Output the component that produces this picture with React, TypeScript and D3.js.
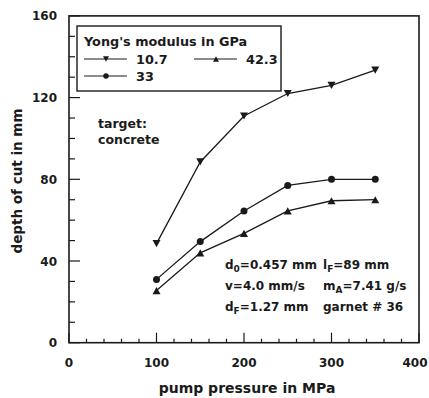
import React from "react";
import * as d3 from "d3";

const pressure = [100, 150, 200, 250, 300, 350];
const depth107 = [48.5, 88.5, 111, 122, 126, 133.5];
const depth33 = [31, 49.5, 64.5, 77, 80, 80];
const depth423 = [25.5, 44, 53.5, 64.5, 69.5, 70];
const xTicks = [0, 100, 200, 300, 400];
const yTicks = [0, 40, 80, 120, 160];
const legendTitle = "Yong's modulus in GPa";
const seriesNames = ["10.7", "33", "42.3"];

const W = 429, H = 398;
const FONT = "'DejaVu Sans', Verdana, sans-serif";
const INK = "#1a1a1a";

function Marker({ kind, cx, cy, s }: { kind: string; cx: number; cy: number; s: number }) {
  if (kind === "circle") return <circle cx={cx} cy={cy} r={s * 0.5} fill={INK} />;
  const h = s * 0.9;
  if (kind === "down")
    return <path d={`M${cx - s / 2},${cy - h / 2}L${cx + s / 2},${cy - h / 2}L${cx},${cy + h / 2}Z`} fill={INK} />;
  return <path d={`M${cx - s / 2},${cy + h / 2}L${cx + s / 2},${cy + h / 2}L${cx},${cy - h / 2}Z`} fill={INK} />;
}

export default function App() {
  const x = d3.scaleLinear().domain([0, 400]).range([69, 419]);
  const y = d3.scaleLinear().domain([0, 160]).range([342.7, 15.9]);
  const series = [
    { name: seriesNames[0], values: depth107, kind: "down" },
    { name: seriesNames[1], values: depth33, kind: "circle" },
    { name: seriesNames[2], values: depth423, kind: "up" },
  ];
  const line = d3.line<number>().x((_, i) => x(pressure[i])).y((v) => y(v));
  const yMinor = d3.range(0, 161, 10);
  const xMinor = d3.range(0, 401, 20);

  return (
    <svg width={W} height={H} style={{ position: "absolute", left: 0, top: 0, background: "#fff" }}
      fontFamily={FONT} fontWeight="bold" fill={INK}>
      <rect x={0} y={0} width={W} height={H} fill="#fff" />
      {/* ticks */}
      {yMinor.map((v) => (
        <line key={"ym" + v} x1={x(0)} x2={x(0) + (v % 40 === 0 ? 11 : 6)} y1={y(v)} y2={y(v)} stroke={INK} strokeWidth={1.2} />
      ))}
      {xMinor.map((v) => (
        <line key={"xm" + v} x1={x(v)} x2={x(v)} y1={y(0)} y2={y(0) - (v % 100 === 0 ? 10 : 4)} stroke={INK} strokeWidth={1.2} />
      ))}
      <rect x={x(0)} y={y(160)} width={x(400) - x(0)} height={y(0) - y(160)} fill="none" stroke={INK} strokeWidth={1.6} />
      {yTicks.map((v) => (
        <text key={"yt" + v} x={57} y={y(v) + 4.5} textAnchor="end" fontSize={12}>{v}</text>
      ))}
      {xTicks.map((v) => (
        <text key={"xt" + v} x={Math.min(x(v), 415)} y={367} textAnchor="middle" fontSize={12}>{v}</text>
      ))}
      <text x={247} y={393} textAnchor="middle" fontSize={14}>pump pressure in MPa</text>
      <text transform="translate(22,181) rotate(-90)" textAnchor="middle" fontSize={13.5}>depth of cut in mm</text>

      {/* series */}
      {series.map((s) => (
        <g key={s.name}>
          <path d={line(s.values) || ""} fill="none" stroke={INK} strokeWidth={1.3} />
          {s.values.map((v, i) => (
            <Marker key={i} kind={s.kind} cx={x(pressure[i])} cy={y(v)} s={s.kind === "circle" ? 7 : 8} />
          ))}
        </g>
      ))}

      {/* legend */}
      <rect x={77} y={26} width={204} height={65} fill="#fff" stroke={INK} strokeWidth={1.4} />
      <text x={84} y={46} fontSize={12.8}>{legendTitle}</text>
      {[
        { s: series[0], lx: 84, ly: 59 },
        { s: series[2], lx: 194, ly: 59 },
        { s: series[1], lx: 84, ly: 76 },
      ].map(({ s, lx, ly }) => (
        <g key={"lg" + s.name}>
          <line x1={lx} x2={lx + 43} y1={ly} y2={ly} stroke={INK} strokeWidth={1.1} />
          <Marker kind={s.kind} cx={lx + 22} cy={ly} s={s.kind === "circle" ? 5.5 : 6} />
          <text x={lx + 52} y={ly + 4.5} fontSize={12.8}>{s.name}</text>
        </g>
      ))}

      <text x={98} y={128} fontSize={12.5}>target:</text>
      <text x={98} y={144} fontSize={12.5}>concrete</text>

      {/* parameters */}
      <g fontSize={12}>
        <text x={225} y={269}>d<tspan fontSize={9} dy={3}>0</tspan><tspan dy={-3}>=0.457 mm</tspan></text>
        <text x={323} y={269}>l<tspan fontSize={9} dy={3}>F</tspan><tspan dy={-3}>=89 mm</tspan></text>
        <text x={225} y={290}>v=4.0 mm/s</text>
        <text x={323} y={290}>m<tspan fontSize={9} dy={3}>A</tspan><tspan dy={-3}>=7.41 g/s</tspan></text>
        <text x={225} y={311}>d<tspan fontSize={9} dy={3}>F</tspan><tspan dy={-3}>=1.27 mm</tspan></text>
        <text x={323} y={311}>garnet # 36</text>
      </g>
    </svg>
  );
}
